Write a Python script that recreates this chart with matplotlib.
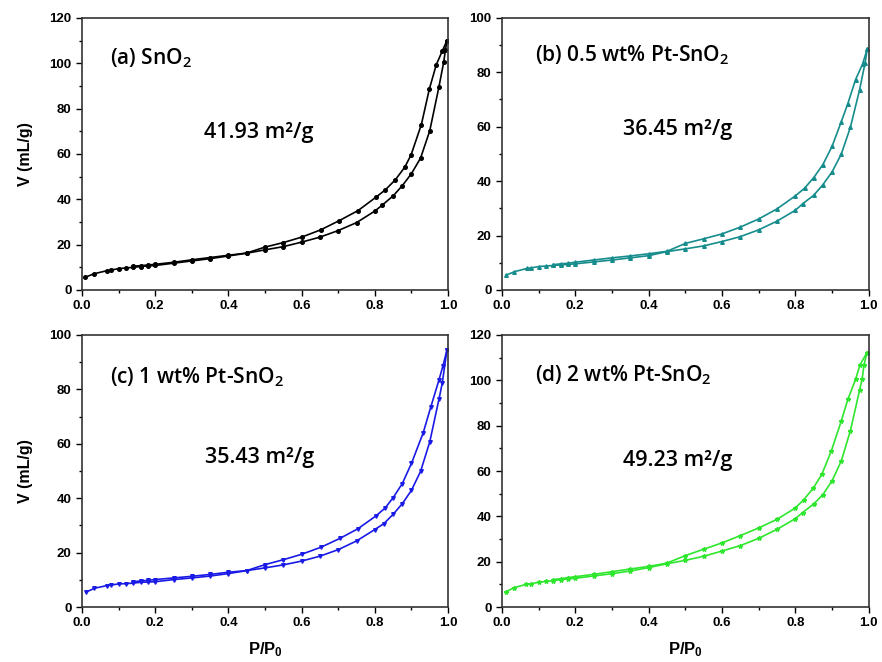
import numpy as np
import matplotlib
matplotlib.use('Agg')
import matplotlib.pyplot as plt
from matplotlib.ticker import MultipleLocator

plt.rcParams['font.family'] = 'Liberation Sans'

# %% data read from the isotherms (adsorption / desorption branches)

a_ads_x = [0.009, 0.032, 0.068, 0.08, 0.10, 0.12, 0.14, 0.16, 0.18, 0.20, 0.25, 0.30, 0.35, 0.40, 0.45, 0.50,
           0.55, 0.60, 0.65, 0.70, 0.75, 0.80, 0.82, 0.85, 0.875, 0.90, 0.925, 0.95, 0.975, 0.988, 0.993, 0.997]
a_ads_y = [5.6, 7.1, 8.5, 8.8, 9.4, 9.7, 10.0, 10.3, 10.6, 10.8, 11.8, 12.8, 13.8, 15.0, 16.2, 17.7,
           19.1, 21.1, 23.3, 26.2, 29.7, 34.8, 37.4, 41.5, 46.0, 51.3, 58.2, 70.2, 89.5, 100.4, 106.0, 110.0]
a_des_x = [0.997, 0.984, 0.968, 0.949, 0.927, 0.899, 0.882, 0.856, 0.829, 0.803, 0.754, 0.703, 0.652,
           0.60, 0.55, 0.50, 0.45, 0.40, 0.35, 0.30, 0.25, 0.20, 0.18, 0.16, 0.14]
a_des_y = [110.0, 105.3, 99.4, 88.7, 72.9, 59.6, 54.2, 48.6, 44.2, 40.9, 35.0, 30.6, 26.5,
           23.3, 20.9, 18.9, 16.3, 15.3, 14.3, 13.3, 12.2, 11.3, 11.0, 10.7, 10.5]

b_ads_x = [0.011, 0.034, 0.068, 0.08, 0.10, 0.12, 0.14, 0.16, 0.18, 0.20, 0.25, 0.30, 0.35, 0.40, 0.45, 0.50,
           0.55, 0.60, 0.65, 0.70, 0.75, 0.80, 0.82, 0.85, 0.875, 0.90, 0.925, 0.95, 0.975, 0.99, 0.996]
b_ads_y = [5.4, 6.7, 7.9, 8.1, 8.6, 8.8, 9.0, 9.2, 9.4, 9.6, 10.3, 11.0, 11.8, 12.6, 14.1, 15.1,
           16.2, 17.8, 19.6, 22.1, 25.3, 29.3, 31.7, 34.8, 38.7, 43.4, 49.9, 59.8, 73.6, 83.5, 88.6]
b_des_x = [0.996, 0.983, 0.964, 0.943, 0.925, 0.90, 0.875, 0.85, 0.825, 0.80, 0.75, 0.70, 0.65,
           0.60, 0.55, 0.50, 0.45, 0.40, 0.35, 0.30, 0.25, 0.20, 0.18, 0.16, 0.14]
b_des_y = [88.6, 83.0, 77.3, 68.5, 61.8, 52.8, 46.1, 41.3, 37.4, 34.6, 29.8, 26.1, 23.1,
           20.6, 18.8, 17.1, 14.2, 13.3, 12.5, 11.8, 11.0, 10.2, 9.8, 9.6, 9.3]

c_ads_x = [0.011, 0.034, 0.068, 0.08, 0.10, 0.12, 0.14, 0.16, 0.18, 0.20, 0.25, 0.30, 0.35, 0.40, 0.45, 0.50,
           0.55, 0.60, 0.65, 0.70, 0.75, 0.80, 0.825, 0.85, 0.875, 0.90, 0.925, 0.95, 0.975, 0.984, 0.997]
c_ads_y = [5.5, 6.9, 7.9, 8.1, 8.5, 8.6, 8.8, 9.1, 9.2, 9.3, 10.1, 10.7, 11.4, 12.3, 13.4, 14.4,
           15.5, 16.9, 18.7, 21.1, 24.3, 28.5, 30.7, 34.1, 38.0, 42.9, 49.9, 60.7, 76.3, 82.2, 94.5]
c_des_x = [0.997, 0.986, 0.975, 0.953, 0.932, 0.90, 0.875, 0.85, 0.828, 0.803, 0.754, 0.704, 0.653,
           0.60, 0.55, 0.50, 0.45, 0.40, 0.35, 0.30, 0.25, 0.20, 0.18, 0.16, 0.14]
c_des_y = [94.5, 88.6, 83.4, 73.6, 64.0, 52.8, 45.4, 40.2, 36.4, 33.5, 28.8, 25.2, 22.0,
           19.4, 17.4, 15.6, 13.4, 12.8, 12.0, 11.3, 10.7, 10.1, 9.8, 9.6, 9.3]

d_ads_x = [0.01, 0.032, 0.066, 0.079, 0.10, 0.12, 0.14, 0.16, 0.18, 0.20, 0.25, 0.30, 0.35, 0.40, 0.45, 0.50,
           0.55, 0.60, 0.65, 0.70, 0.75, 0.80, 0.82, 0.85, 0.875, 0.90, 0.925, 0.95, 0.975, 0.982, 0.987, 0.995]
d_ads_y = [6.6, 8.5, 10.0, 10.3, 10.9, 11.3, 11.6, 12.1, 12.4, 12.7, 13.7, 14.7, 15.9, 17.4, 19.1, 20.6,
           22.4, 24.7, 27.1, 30.3, 34.3, 39.0, 41.7, 45.5, 49.6, 55.7, 64.4, 77.8, 95.7, 100.6, 106.8, 112.2]
d_des_x = [0.995, 0.976, 0.964, 0.943, 0.925, 0.898, 0.872, 0.848, 0.823, 0.80, 0.75, 0.70, 0.65,
           0.60, 0.55, 0.50, 0.45, 0.40, 0.35, 0.30, 0.25, 0.20, 0.18, 0.16, 0.14]
d_des_y = [112.2, 106.8, 100.4, 91.6, 82.0, 68.9, 58.5, 52.3, 47.4, 43.7, 38.7, 34.9, 31.5,
           28.3, 25.5, 22.7, 19.4, 17.9, 16.8, 15.6, 14.4, 13.4, 13.0, 12.5, 12.1]

labels = [r'(a) $\mathregular{SnO_2}$',
          r'(b) 0.5 wt% Pt-$\mathregular{SnO_2}$',
          r'(c) 1 wt% Pt-$\mathregular{SnO_2}$',
          r'(d) 2 wt% Pt-$\mathregular{SnO_2}$']
areas = ['41.93 m²/g', '36.45 m²/g', '35.43 m²/g', '49.23 m²/g']
ymax = [120, 100, 100, 120]
colors = ['black', '#168c8c', '#1a1ae6', '#2ee62e']
markers = ['o', '^', 'v', '*']

panels = [(a_ads_x, a_ads_y, a_des_x, a_des_y),
          (b_ads_x, b_ads_y, b_des_x, b_des_y),
          (c_ads_x, c_ads_y, c_des_x, c_des_y),
          (d_ads_x, d_ads_y, d_des_x, d_des_y)]

# %% figure

fig = plt.figure(figsize=(8.82, 6.62), dpi=100)
rects = [[0.093, 0.562, 0.415, 0.411],
         [0.569, 0.562, 0.416, 0.411],
         [0.093, 0.083, 0.415, 0.411],
         [0.569, 0.083, 0.416, 0.411]]
label_pos = [(0.077, 0.853), (0.09, 0.864), (0.077, 0.846), (0.09, 0.853)]
area_pos = [(0.333, 0.58), (0.33, 0.588), (0.336, 0.548), (0.33, 0.54)]

for i in range(4):
    ax = fig.add_axes(rects[i])
    ax_x, ax_y, de_x, de_y = panels[i]
    for xs, ys in [(ax_x, ax_y), (de_x, de_y)]:
        ax.plot(xs, ys, color=colors[i], lw=1.2, marker=markers[i],
                ms=3.2 if markers[i] == '*' else 2.6, mec=colors[i], mfc=colors[i])

    ax.set_xlim(0, 1.0)
    ax.set_ylim(0, ymax[i])
    ax.xaxis.set_major_locator(MultipleLocator(0.2))
    ax.xaxis.set_minor_locator(MultipleLocator(0.1))
    ax.yaxis.set_major_locator(MultipleLocator(20))
    ax.yaxis.set_minor_locator(MultipleLocator(10))
    ax.tick_params(which='both', direction='out', top=False, right=False,
                   labelsize=9.5, width=1.0)
    ax.tick_params(which='major', length=4)
    ax.tick_params(which='minor', length=2.5)
    for lab in ax.get_xticklabels() + ax.get_yticklabels():
        lab.set_fontweight('bold')
    for sp in ax.spines.values():
        sp.set_linewidth(1.2)
        sp.set_color('#333333')

    ax.text(label_pos[i][0], label_pos[i][1], labels[i], transform=ax.transAxes,
            fontsize=15, family='Open Sans', fontweight='semibold', va='center')
    ax.text(area_pos[i][0], area_pos[i][1], areas[i], transform=ax.transAxes,
            fontsize=15.5, family='Open Sans', fontweight='semibold', va='center')

    if i % 2 == 0:
        ax.set_ylabel('V (mL/g)', fontsize=11.5, fontweight='bold', labelpad=12)
    if i >= 2:
        ax.set_xlabel(r'P/$\mathregular{P_0}$', fontsize=12, fontweight='bold', labelpad=8)

plt.savefig('out.png', dpi=100)
